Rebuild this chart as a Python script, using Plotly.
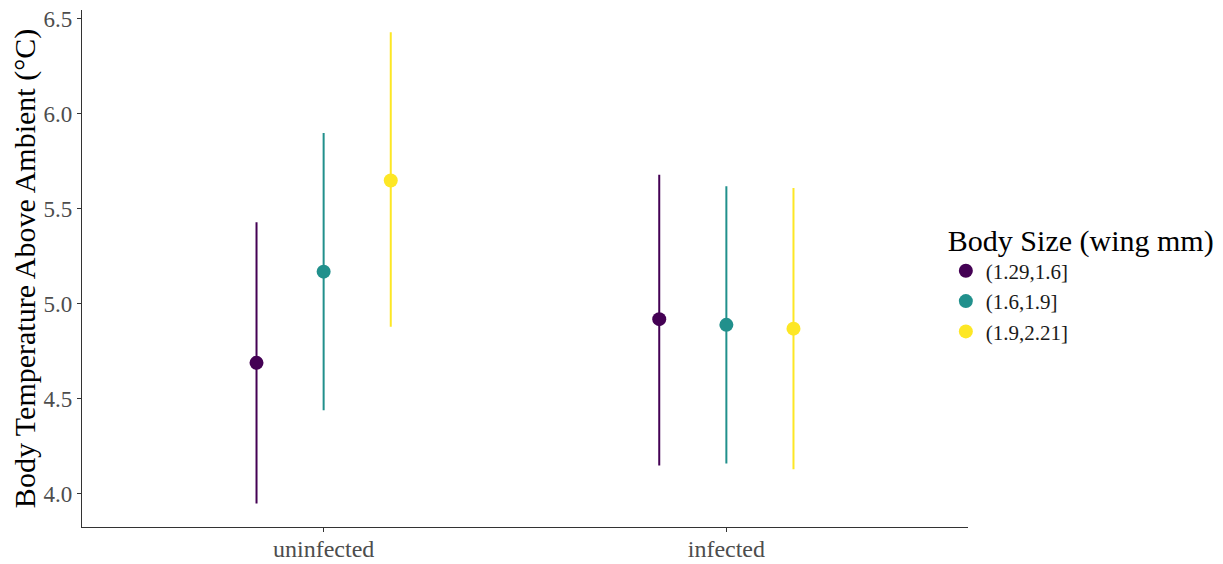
import plotly.graph_objects as go

# ---- data ----
groups = ["uninfected", "infected"]
size_classes = ["(1.29,1.6]", "(1.6,1.9]", "(1.9,2.21]"]
colors = ["#440154", "#21908C", "#FDE725"]

mean_small = [4.69, 4.92]
low_small = [3.95, 4.15]
high_small = [5.43, 5.68]

mean_mid = [5.17, 4.89]
low_mid = [4.44, 4.16]
high_mid = [5.90, 5.62]

mean_large = [5.65, 4.87]
low_large = [4.88, 4.13]
high_large = [6.43, 5.61]

series = [
    (mean_small, low_small, high_small),
    (mean_mid, low_mid, high_mid),
    (mean_large, low_large, high_large),
]

dodge_width = 0.5
n = len(size_classes)
font_family = "Liberation Serif, Times New Roman, serif"

fig = go.Figure()
for i, (name, col, (m, lo, hi)) in enumerate(zip(size_classes, colors, series)):
    offset = (i - (n - 1) / 2) * dodge_width / n
    xs = [g + 1 + offset for g in range(len(groups))]
    fig.add_trace(go.Scatter(
        x=xs, y=m, mode="markers", name=name, showlegend=False,
        marker=dict(color=col, size=14, line=dict(width=0)),
        error_y=dict(type="data", symmetric=False,
                     array=[h - v for h, v in zip(hi, m)],
                     arrayminus=[v - l for v, l in zip(m, lo)],
                     width=0, thickness=2, color=col),
    ))
    fig.add_trace(go.Scatter(
        x=[None], y=[None], mode="markers", name=name, showlegend=True,
        marker=dict(color=col, size=14),
    ))

# page body has an 8px default margin; size the figure to fit the window
fig.update_layout(
    width=1215, height=556,
    margin=dict(l=74, r=255, t=2, b=37, autoexpand=False),
    paper_bgcolor="white", plot_bgcolor="white",
    font=dict(family=font_family, color="#4D4D4D", size=22),
    showlegend=True,
    legend=dict(
        title=dict(text="Body Size (wing mm)", font=dict(size=30, color="black", family=font_family)),
        font=dict(size=21, color="#1a1a1a", family=font_family),
        x=0.975, xanchor="left", y=0.61, yanchor="top",
        bgcolor="rgba(0,0,0,0)", itemwidth=30, tracegroupgap=0,
    ),
)
fig.update_xaxes(
    range=[0.4, 2.6], tickmode="array", tickvals=[1, 2], ticktext=groups,
    showline=True, linecolor="#333333", linewidth=1.3,
    ticks="outside", ticklen=4, tickcolor="#333333", tickwidth=1,
    showgrid=False, zeroline=False, automargin=False,
    ticklabelstandoff=-4, ticklabeloverflow="allow",
    tickfont=dict(size=24, color="#4D4D4D", family=font_family),
)
fig.update_yaxes(
    range=[3.826, 6.547], tickmode="array",
    tickvals=[4.0, 4.5, 5.0, 5.5, 6.0, 6.5],
    ticktext=["4.0", "4.5", "5.0", "5.5", "6.0", "6.5"],
    showline=True, linecolor="#333333", linewidth=1.3,
    ticks="outside", ticklen=4, tickcolor="#333333", tickwidth=1,
    showgrid=False, zeroline=False, automargin=False,
    ticklabeloverflow="allow",
    tickfont=dict(size=23, color="#4D4D4D", family=font_family),
    title=dict(text="Body Temperature Above Ambient (°C)",
               font=dict(size=30, color="black", family=font_family), standoff=0),
)

fig.write_html("out.html")
